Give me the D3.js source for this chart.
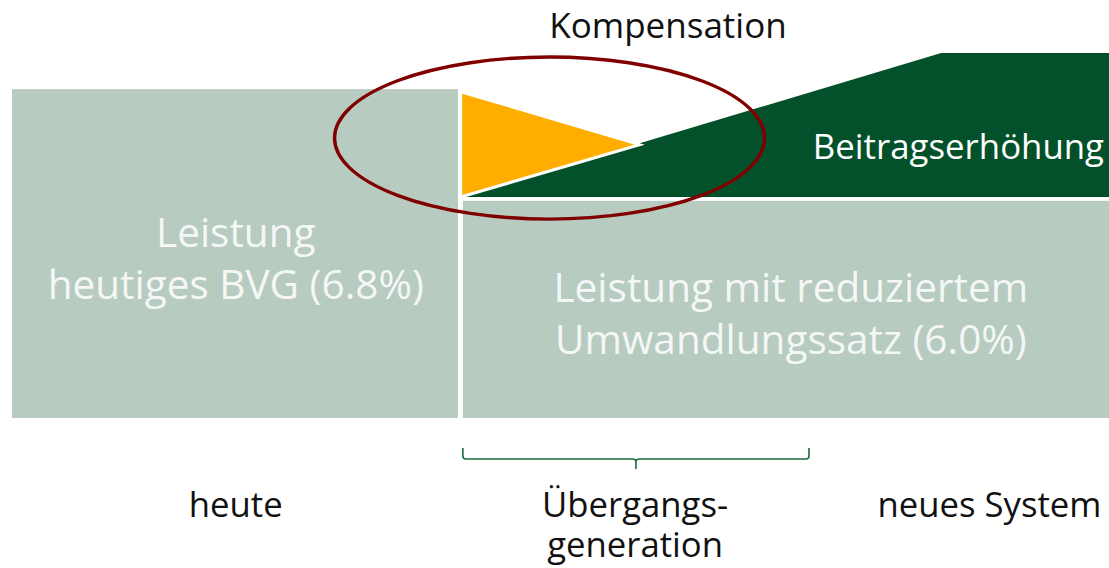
<!DOCTYPE html>
<html>
<head>
<meta charset="utf-8">
<script src="https://d3js.org/d3.v7.min.js"></script>
<style>
  body { margin: 0; background: #fff; }
  text { font-family: 'Open Sans', 'Noto Sans', sans-serif; }
</style>
</head>
<body>
<script>
// schematic units: time 0..100 across, level 0..100 up
var blockToday = {start: 0, end: 40.65, level: 90.1};
var blockNew = {start: 41.1, end: 100, level: 59.5};
var contribution = {start: 40.9, full: 84.7, end: 100, base: 60, top: 100};
var compensation = {start: 40.9, apex: 57.2, top: 89.4, base: 60};
var transition = {start: 41.1, end: 72.65};
var ring = {t: 49.0, level: 76.7, rt: 19.6, rl: 22.2};

var blockLabels = [
  {t: 20.4, level: 48, lines: ['Leistung', 'heutiges BVG (6.8%)']},
  {t: 71.0, level: 33, lines: ['Leistung mit reduziertem', 'Umwandlungssatz (6.0%)']}
];
var phaseLabels = [
  {t: 20.4, lines: ['heute']},
  {t: 56.8, lines: ['Übergangs-', 'generation']},
  {t: 89.1, lines: ['neues System']}
];
var titleLabel = 'Kompensation';
var rampLabel = 'Beitragserhöhung';

var W = 1109, H = 568;
var svg = d3.select('body').append('svg').attr('width', W).attr('height', H);

var x = d3.scaleLinear().domain([0, 100]).range([12, 1109]);
var y = d3.scaleLinear().domain([0, 100]).range([418, 53]);

var light = '#b7cbc0', dark = '#03512a', orange = '#ffae00';

// benefit blocks
svg.selectAll('rect.block').data([blockToday, blockNew]).enter().append('rect')
  .attr('class', 'block')
  .attr('x', function(d) { return x(d.start); })
  .attr('y', function(d) { return y(d.level); })
  .attr('width', function(d) { return x(d.end) - x(d.start); })
  .attr('height', function(d) { return y(0) - y(d.level); })
  .attr('fill', light);

// contribution ramp
var c = contribution;
svg.append('path')
  .attr('d', d3.line()([
    [x(c.start), y(c.base) - 2], [x(c.full), y(c.top)], [x(c.end), y(c.top)],
    [x(c.end), y(c.base) - 2]
  ]) + 'Z')
  .attr('fill', dark);

// compensation triangle, apex sits on the ramp
var k = compensation;
var apexLevel = c.base + (c.top - c.base) * (k.apex - c.start) / (c.full - c.start);
svg.append('path')
  .attr('d', d3.line()([
    [x(k.start), y(k.top)], [x(k.apex), y(apexLevel)], [x(k.start), y(k.base) - 2]
  ]) + 'Z')
  .attr('fill', orange)
  .attr('stroke', '#fff')
  .attr('stroke-width', 3)
  .attr('stroke-linejoin', 'miter');

// cover the left edge of the stroke so the triangle stays flush
svg.append('rect')
  .attr('x', x(k.start) - 2).attr('y', y(k.top) - 3)
  .attr('width', 2).attr('height', y(k.base) - y(k.top) + 3)
  .attr('fill', '#fff');

// ring around the compensation
svg.append('ellipse')
  .attr('cx', x(ring.t)).attr('cy', y(ring.level))
  .attr('rx', x(ring.rt) - x(0)).attr('ry', y(0) - y(ring.rl))
  .attr('fill', 'none')
  .attr('stroke', '#800000')
  .attr('stroke-width', 3.4);

// bracket under the transition
var bx0 = x(transition.start), bx1 = x(transition.end), bm = (bx0 + bx1) / 2;
svg.append('path')
  .attr('d', 'M' + bx0 + ',448 L' + bx0 + ',456 Q' + bx0 + ',459 ' + (bx0 + 3) + ',459 L' +
    (bm - 3) + ',459 Q' + bm + ',459 ' + bm + ',462 L' + bm + ',469 M' + bm + ',462 Q' + bm +
    ',459 ' + (bm + 3) + ',459 L' + (bx1 - 3) + ',459 Q' + bx1 + ',459 ' + bx1 + ',456 L' + bx1 + ',448')
  .attr('fill', 'none')
  .attr('stroke', '#1d6b3b')
  .attr('stroke-width', 1.6);

// texts
svg.append('text')
  .attr('x', 668).attr('y', 38)
  .attr('text-anchor', 'middle')
  .attr('font-size', 35)
  .attr('fill', '#111')
  .text(titleLabel);

svg.append('text')
  .attr('x', 1104).attr('y', 159)
  .attr('text-anchor', 'end')
  .attr('font-size', 34.8)
  .attr('fill', '#fff')
  .text(rampLabel);

blockLabels.forEach(function(b) {
  svg.append('text')
    .attr('text-anchor', 'middle')
    .attr('font-size', 40.5)
    .attr('fill', '#f4f7f5')
    .selectAll('tspan').data(b.lines).enter().append('tspan')
    .attr('x', x(b.t))
    .attr('y', function(d, i) { return y(b.level) + 52 * (i - 1) + 56; })
    .text(function(d) { return d; });
});

phaseLabels.forEach(function(p) {
  svg.append('text')
    .attr('text-anchor', 'middle')
    .attr('font-size', 34.7)
    .attr('fill', '#111')
    .selectAll('tspan').data(p.lines).enter().append('tspan')
    .attr('x', x(p.t))
    .attr('y', function(d, i) { return 517 + 40 * i; })
    .text(function(d) { return d; });
});
</script>
</body>
</html>
